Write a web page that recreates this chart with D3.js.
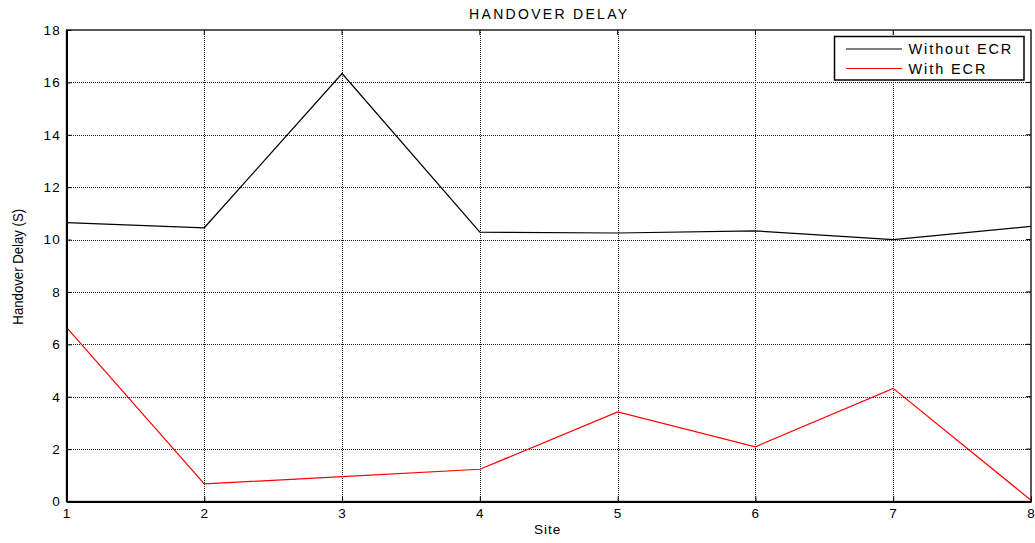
<!DOCTYPE html>
<html>
<head>
<meta charset="utf-8">
<script src="https://cdn.jsdelivr.net/npm/d3@7"></script>
<style>
  html, body { margin: 0; padding: 0; background: #fff; }
  svg text { font-family: "Liberation Sans", Arial, sans-serif; fill: #000; }
</style>
</head>
<body>
<svg id="chart" width="1035" height="543"></svg>
<script>
// Handover delay per site
const sites = [1, 2, 3, 4, 5, 6, 7, 8];
const withoutECR = [10.65, 10.45, 16.34, 10.28, 10.25, 10.33, 10.0, 10.5];
const withECR = [6.65, 0.67, 0.95, 1.23, 3.42, 2.09, 4.32, 0.05];
const yTicks = [0, 2, 4, 6, 8, 10, 12, 14, 16, 18];
const seriesNames = ["Without ECR", "With ECR"];
const seriesColors = ["#000000", "#ff0000"];

const svg = d3.select("#chart");
const m = { left: 66.5, right: 1031, top: 30, bottom: 501.5 };

const x = d3.scaleLinear().domain([1, 8]).range([m.left, m.right]);
const y = d3.scaleLinear().domain([0, 18]).range([m.bottom, m.top]);
const snap = v => Math.round(v) + 0.5;

// dotted grid
const grid = svg.append("g").attr("shape-rendering", "crispEdges");
grid.selectAll("line.gx").data(sites.slice(1, -1)).join("line")
  .attr("x1", d => snap(x(d))).attr("x2", d => snap(x(d)))
  .attr("y1", m.top).attr("y2", m.bottom)
  .attr("stroke", "#222").attr("stroke-width", 1).attr("stroke-dasharray", "1,1");
grid.selectAll("line.gy").data(yTicks.slice(1, -1)).join("line")
  .attr("x1", m.left).attr("x2", m.right)
  .attr("y1", d => snap(y(d))).attr("y2", d => snap(y(d)))
  .attr("stroke", "#222").attr("stroke-width", 1).attr("stroke-dasharray", "1,1");

// series lines
const line = d3.line().x((d, i) => x(sites[i])).y(d => y(d));
[withoutECR, withECR].forEach((s, k) => {
  svg.append("path").datum(s)
    .attr("d", line)
    .attr("fill", "none")
    .attr("stroke", seriesColors[k])
    .attr("stroke-width", 1.2);
});

// frame
svg.append("rect")
  .attr("x", m.left).attr("y", m.top)
  .attr("width", m.right - m.left).attr("height", m.bottom - m.top)
  .attr("fill", "none").attr("stroke", "#000").attr("stroke-width", 1.3);

// axes (ticks point inward)
const tickFont = sel => sel.attr("font-size", 13.5).attr("letter-spacing", 1.2)
  .attr("font-family", "Liberation Sans, Arial, sans-serif");
const xAxis = d3.axisBottom(x).tickValues(sites).tickFormat(d3.format("d")).tickSizeInner(-5).tickSizeOuter(0).tickPadding(7);
const gx = svg.append("g").attr("transform", `translate(0,${m.bottom})`).call(xAxis);
gx.select(".domain").attr("stroke-width", 2);
gx.selectAll("text").call(tickFont);

const yAxis = d3.axisLeft(y).tickValues(yTicks).tickSizeInner(-5).tickSizeOuter(0).tickPadding(5.5);
const gy = svg.append("g").attr("transform", `translate(${m.left},0)`).call(yAxis);
gy.select(".domain").attr("stroke-width", 2);
gy.selectAll("text").call(tickFont);

// top/right inward ticks
svg.append("g").selectAll("line").data(sites.slice(1, -1)).join("line")
  .attr("x1", d => x(d)).attr("x2", d => x(d))
  .attr("y1", m.top).attr("y2", m.top + 5).attr("stroke", "#000");
svg.append("g").selectAll("line").data(yTicks.slice(1, -1)).join("line")
  .attr("x1", m.right).attr("x2", m.right - 5)
  .attr("y1", d => y(d)).attr("y2", d => y(d)).attr("stroke", "#000");

// titles
svg.append("text").attr("x", (m.left + m.right) / 2 + 0.5).attr("y", 19)
  .attr("text-anchor", "middle").attr("font-size", 14).attr("letter-spacing", 2.3)
  .text("HANDOVER DELAY");
svg.append("text").attr("x", (m.left + m.right) / 2 - 1).attr("y", 534)
  .attr("text-anchor", "middle").attr("font-size", 13.5).attr("letter-spacing", 1)
  .text("Site");
svg.append("text")
  .attr("transform", `translate(23,${(m.top + m.bottom) / 2 + 1}) rotate(-90) scale(0.88,1)`)
  .attr("text-anchor", "middle").attr("font-size", 15)
  .text("Handover Delay  (S)");

// legend
const lg = svg.append("g");
lg.append("rect").attr("x", 834.5).attr("y", 36.5).attr("width", 189.5).attr("height", 43.5)
  .attr("fill", "#fff").attr("stroke", "#000").attr("stroke-width", 1.5);
seriesNames.forEach((n, i) => {
  const yy = 49 + i * 19.5;
  lg.append("line").attr("x1", 846).attr("x2", 902).attr("y1", yy).attr("y2", yy)
    .attr("stroke", seriesColors[i]).attr("stroke-width", 1.2);
  lg.append("text").attr("x", 908.5).attr("y", yy + 5).attr("font-size", 14.5)
    .attr("letter-spacing", 1.9).text(n);
});
</script>
</body>
</html>
